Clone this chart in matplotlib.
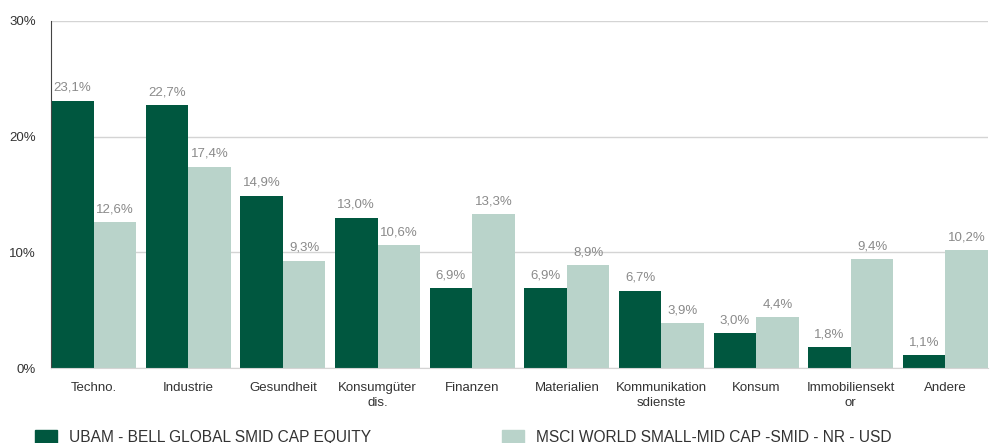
import numpy as np
import matplotlib.pyplot as plt
from matplotlib.patches import Patch

# sector labels (wrapped like in the original)
sectors = ['Techno.', 'Industrie', 'Gesundheit', 'Konsumgüter\ndis.', 'Finanzen',
           'Materialien', 'Kommunikation\nsdienste', 'Konsum', 'Immobiliensekt\nor', 'Andere']
fund = [23.1, 22.7, 14.9, 13.0, 6.9, 6.9, 6.7, 3.0, 1.8, 1.1]
bench = [12.6, 17.4, 9.3, 10.6, 13.3, 8.9, 3.9, 4.4, 9.4, 10.2]
fund_name = 'UBAM - BELL GLOBAL SMID CAP EQUITY'
bench_name = 'MSCI WORLD SMALL-MID CAP -SMID - NR - USD'
yticks = [0, 10, 20, 30]

dark = '#00573f'
light = '#b9d3ca'
plt.rcParams['font.family'] = ['Liberation Sans', 'DejaVu Sans']

fig = plt.figure(figsize=(9.94, 4.43), dpi=100)
ax = fig.add_axes([0.0513, 0.169, 0.9427, 0.7836])

x = np.arange(len(sectors))
w = 0.45
b1 = ax.bar(x - w/2, fund, w, color=dark)
b2 = ax.bar(x + w/2, bench, w, color=light)

for bars, vals in ((b1, fund), (b2, bench)):
    for r, v in zip(bars, vals):
        ax.annotate(f'{v:.1f}%'.replace('.', ','), (r.get_x() + r.get_width()/2, v),
                    xytext=(0, 5), textcoords='offset points', ha='center', va='bottom',
                    fontsize=9.5, color='#8a8a8a')

ax.set_xlim(-0.45, 9.45)
ax.set_ylim(0, 30)
ax.set_yticks(yticks)
ax.set_yticklabels([f'{t}%' for t in yticks])
ax.set_xticks(x)
ax.set_xticklabels(sectors, linespacing=1.35)
ax.tick_params(length=0, labelsize=9.5, labelcolor='#333333')
ax.tick_params(axis='y', pad=11)
ax.tick_params(axis='x', pad=10)
ax.grid(axis='y', color='#d4d4d4', linewidth=1)
ax.set_axisbelow(True)
for s in ['top', 'right']:
    ax.spines[s].set_visible(False)
ax.spines['left'].set_color('#444444')
ax.spines['bottom'].set_color('#d4d4d4')

fig.legend(handles=[Patch(color=dark)], labels=[fund_name], loc='center left',
           bbox_to_anchor=(0.021, 0.013), frameon=False, fontsize=11.2,
           handlelength=1.42, handleheight=1.0, handletextpad=0.78,
           labelcolor='#333333')
fig.legend(handles=[Patch(color=light)], labels=[bench_name], loc='center left',
           bbox_to_anchor=(0.491, 0.013), frameon=False, fontsize=11.2,
           handlelength=1.42, handleheight=1.0, handletextpad=0.78,
           labelcolor='#333333')

fig.savefig('out.png', dpi=100)
